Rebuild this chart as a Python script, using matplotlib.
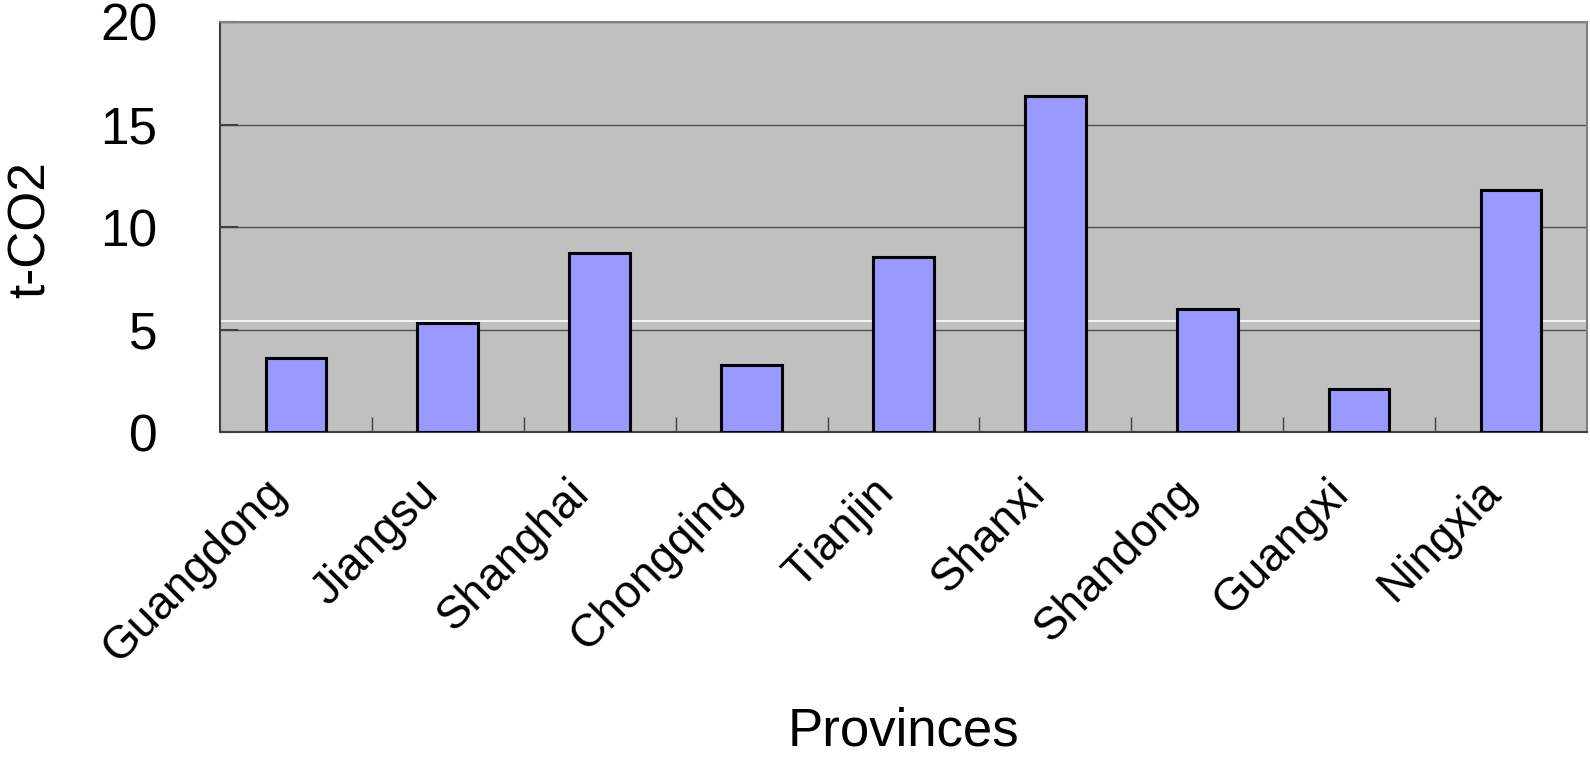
#!/usr/bin/env python3

import matplotlib
matplotlib.use("Agg")
import matplotlib.pyplot as plt
import numpy as np

provinces = ["Guangdong", "Jiangsu", "Shanghai", "Chongqing", "Tianjin",
             "Shanxi", "Shandong", "Guangxi", "Ningxia"]
emissions = [3.62, 5.33, 8.72, 3.27, 8.52, 16.37, 5.98, 2.08, 11.82]
reference_level = 5.4
y_ticks = [0, 5, 10, 15, 20]


def draw(filename: str):
    plt.rcParams['font.family'] = 'sans-serif'
    plt.rcParams['font.sans-serif'] = ['Liberation Sans', 'DejaVu Sans']

    fig = plt.figure(figsize=(15.9, 7.58), dpi=100)
    fig.subplots_adjust(left=0.1384, right=0.998, top=0.971, bottom=0.430)
    ax = fig.add_subplot(111)
    ax.set_facecolor('#C0C0C0')

    x = np.arange(len(provinces))
    ax.bar(x, emissions, width=0.4, color='#9999FF', edgecolor='black',
           linewidth=2.2, zorder=3)
    ax.axhline(reference_level, color='white', linewidth=1.2, zorder=2)

    ax.set_xlim(-0.5, len(provinces) - 0.5)
    ax.set_ylim(0, 20)
    ax.set_yticks(y_ticks)
    ax.yaxis.grid(True, color='#505050', linewidth=1.0, zorder=1)
    ax.set_axisbelow(True)

    # category labels, rotated and anchored at their right end
    ax.set_xticks(x)
    ax.set_xticklabels([])
    for i, name in enumerate(provinces):
        ax.annotate(name, xy=(i, 0), xycoords=('data', 'axes fraction'),
                    xytext=(-12, -39), textcoords='offset points',
                    fontsize=33, rotation=45, ha='right', va='center',
                    rotation_mode='anchor')
    ax.set_xticks(np.arange(0.5, len(provinces) - 0.5, 1.0), minor=True)
    ax.tick_params(axis='x', which='major', length=0)
    ax.tick_params(axis='x', which='minor', direction='in', length=11,
                   width=1.0, color='#404040')
    ax.tick_params(axis='y', direction='in', length=13, width=1.5,
                   color='#404040', labelsize=37, pad=45)

    for side in ['left', 'bottom']:
        ax.spines[side].set_color('#404040')
        ax.spines[side].set_linewidth(1.5)
    for side in ['top', 'right']:
        ax.spines[side].set_color('#808080')
        ax.spines[side].set_linewidth(1.5)

    ax.set_xlabel("Provinces", fontsize=38)
    ax.set_ylabel("t-CO2", fontsize=37)
    ax.xaxis.set_label_coords(0.5, -0.729)
    ax.xaxis.label.set_va('center')
    ax.yaxis.set_label_coords(-0.138, 0.495)
    ax.yaxis.label.set_va('center')

    fig.savefig(filename, dpi=100)


if __name__ == "__main__":
    draw('out.png')
